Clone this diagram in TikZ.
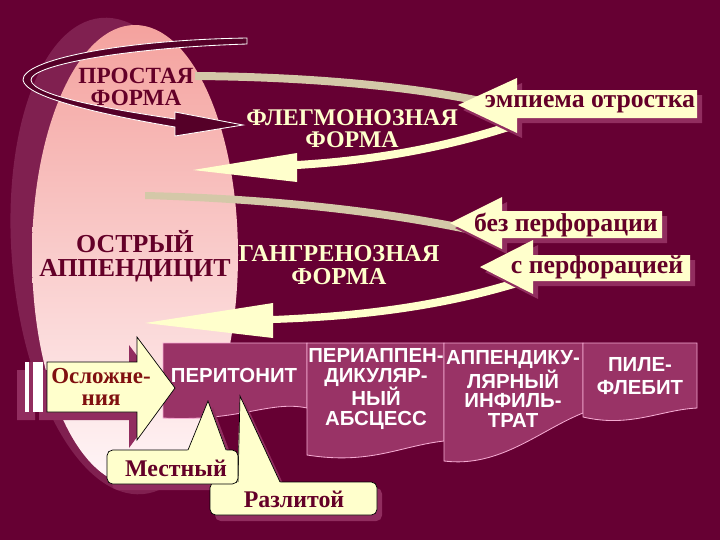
\documentclass[tikz,border=0pt]{standalone}
\usepackage{fontspec}
\setmainfont{Liberation Serif}
\newfontfamily\boxfont{Liberation Sans}
\usepackage{tikz}

\definecolor{slidebg}{RGB}{102,0,51}
\definecolor{eggback}{RGB}{128,32,80}
\definecolor{eggtop}{RGB}{244,162,158}
\definecolor{eggmid}{RGB}{251,210,210}
\definecolor{eggbot}{RGB}{255,246,248}
\definecolor{darktext}{RGB}{100,0,40}
\definecolor{arrowdark}{RGB}{85,0,40}
\definecolor{cream}{RGB}{255,255,204}
\definecolor{tanband}{RGB}{212,200,168}
\definecolor{shadowpink}{RGB}{145,45,95}
\definecolor{boxfill}{RGB}{153,51,102}
\definecolor{boxline}{RGB}{245,170,210}
\definecolor{osltext}{RGB}{128,16,16}

\tikzset{
  formlabel/.style={font=\bfseries\fontsize{17}{15.6}\selectfont,align=center,inner sep=0pt},
  calltext/.style={font=\bfseries\fontsize{18.3}{18}\selectfont,text=darktext,inner sep=0pt},
  boxtext/.style={font=\boxfont\bfseries\fontsize{14.5}{13.9}\selectfont,text=white,align=center,inner sep=0pt},
  tablebox/.style={fill=boxfill,draw=boxline,line width=0.6pt},
  callbox/.style={fill=cream,draw=black,line width=0.5pt}
}

\begin{document}
\begin{tikzpicture}[x=0.025cm,y=-0.025cm]
\useasboundingbox (0,0) rectangle (720,540);
\fill[slidebg] (0,0) rectangle (720,540);

% egg
\fill[eggback,rotate around={5:(122,256)}] (122,256) ellipse [x radius=110, y radius=239];
\shade[top color=eggtop,middle color=eggmid,bottom color=eggbot] (135,255) ellipse [x radius=103, y radius=230];

% curved arrows
\filldraw[fill=arrowdark,draw=white,line width=0.6pt] (247,38) .. controls (120,40) and (22,60) .. (23,80)
  .. controls (25,98) and (110,116) .. (175,127) -- (175,136) -- (243,125) -- (175,112) -- (175,119)
  .. controls (115,110) and (32,96) .. (31,80) .. controls (30,66) and (120,48) .. (247,44) -- cycle;

\fill[tanband] (195,72) .. controls (330,73) and (440,86) .. (512,104) -- (510,112) .. controls (440,94) and (330,81) .. (195,80) -- cycle;
\fill[cream] (512,121) .. controls (450,142) and (380,156) .. (297,161) -- (297,153) -- (193,170) -- (297,182) -- (297,169)
  .. controls (380,164) and (450,150) .. (512,130) -- cycle;

\fill[tanband] (145,192) .. controls (280,195) and (410,210) .. (508,234) -- (506,242) .. controls (410,218) and (280,203) .. (145,199) -- cycle;
\fill[cream] (524,276) .. controls (450,300) and (370,312) .. (273,316) -- (273,303) -- (145,323) -- (273,338) -- (273,323)
  .. controls (370,320) and (450,308) .. (524,285) -- cycle;

% side arrows
\fill[shadowpink,shift={(5,5)}] (458,105) -- (517,78) -- (517,90) -- (697,90) -- (697,118) -- (517,118) -- (517,133) -- cycle;
\fill[cream] (458,105) -- (517,78) -- (517,90) -- (697,90) -- (697,118) -- (517,118) -- (517,133) -- cycle;
\fill[shadowpink,shift={(5,5)}] (450,223) -- (502,197) -- (502,211) -- (662,211) -- (662,238) -- (502,238) -- (502,249) -- cycle;
\fill[cream] (450,223) -- (502,197) -- (502,211) -- (662,211) -- (662,238) -- (502,238) -- (502,249) -- cycle;
\fill[shadowpink,shift={(5,5)}] (480,267) -- (533,240) -- (533,255) -- (690,255) -- (690,281) -- (533,281) -- (533,294) -- cycle;
\fill[cream] (480,267) -- (533,240) -- (533,255) -- (690,255) -- (690,281) -- (533,281) -- (533,294) -- cycle;

% table row
\filldraw[tablebox] (163,343) -- (307,343) -- (307,408) .. controls (270,400) and (240,422) .. (163,418) -- cycle;
\filldraw[tablebox] (307,343) -- (444,343) -- (444,441) .. controls (400,446) and (370,465) .. (307,455) -- cycle;
\filldraw[tablebox] (444,343) -- (583,343) -- (583,413) .. controls (540,430) and (500,468) .. (444,461) -- cycle;
\filldraw[tablebox] (583,343) -- (697,343) -- (697,408) .. controls (660,410) and (630,428) .. (583,417) -- cycle;

% complications arrow
\fill[shadowpink,shift={(-8,8)}] (25,362) rectangle (43,412) (47,362) -- (137,362) -- (137,337) -- (175,388) -- (137,440) -- (137,412) -- (47,412) -- cycle;
\fill[white] (25,362) rectangle (29,412);
\fill[shadowpink] (29,362) rectangle (33,412);
\fill[white] (33,362) rectangle (43,412);
\filldraw[callbox] (47,362) -- (137,362) -- (137,337) -- (175,388) -- (137,440) -- (137,412) -- (47,412) -- cycle;

% callouts
\fill[shadowpink,shift={(5,6)},rounded corners=4] (210,482) rectangle (377,515);
\fill[shadowpink,shift={(5,6)}] (237,484) -- (240,396) -- (281,484) -- cycle;
\fill[shadowpink,shift={(5,6)},rounded corners=4] (107,450) rectangle (238,484);
\fill[shadowpink,shift={(5,6)}] (187,452) -- (208,401) -- (227,452) -- cycle;
\filldraw[callbox,rounded corners=4] (210,482) rectangle (377,515);
\fill[cream] (237,484) -- (240,396) -- (281,484) -- cycle;
\draw[line width=0.5pt] (238,482) -- (240,396) -- (280,482);
\filldraw[callbox,rounded corners=4] (107,450) rectangle (238,484);
\fill[cream] (187,452) -- (208,401) -- (227,452) -- cycle;
\draw[line width=0.5pt] (188,450) -- (208,401) -- (226,450);

% labels
\node[formlabel,text=darktext,font=\bfseries\fontsize{16.5}{15.6}\selectfont] (prostaya) at (136,87) {ПРОСТАЯ\\ФОРМА};
\node[formlabel,text=cream] (flegmona) at (352,129) {ФЛЕГМОНОЗНАЯ\\ФОРМА};
\node[formlabel,text=darktext,font=\bfseries\fontsize{18.4}{17}\selectfont] (ostryi) at (135,256) {ОСТРЫЙ\\АППЕНДИЦИТ};
\node[formlabel,text=cream,font=\bfseries\fontsize{17.3}{16.4}\selectfont] (gangrena) at (339,265) {ГАНГРЕНОЗНАЯ\\ФОРМА};
\node[calltext] (empiema) at (590,104) {эмпиема отростка};
\node[calltext] (bezperf) at (566,225) {без перфорации};
\node[calltext] (sperf) at (597,267) {с перфорацией};
\node[formlabel,text=osltext,font=\bfseries\fontsize{16.3}{15.2}\selectfont] (oslozh) at (101,387) {Осложне-\\ния};
\node[calltext,font=\bfseries\fontsize{17}{17}\selectfont] (mestnyi) at (176,468) {Местный};
\node[calltext,font=\bfseries\fontsize{17}{17}\selectfont] (razlitoi) at (294,499) {Разлитой};
\node[boxtext] (peritonit) at (234,375) {ПЕРИТОНИТ};
\node[boxtext] (abscess) at (376,389) {ПЕРИАППЕН-\\ДИКУЛЯР-\\НЫЙ\\АБСЦЕСС};
\node[boxtext] (infiltrat) at (513,389) {АППЕНДИКУ-\\ЛЯРНЫЙ\\ИНФИЛЬ-\\ТРАТ};
\node[boxtext,font=\boxfont\bfseries\fontsize{14.5}{16}\selectfont] (pileflebit) at (640,376) {ПИЛЕ-\\ФЛЕБИТ};
\end{tikzpicture}
\end{document}
